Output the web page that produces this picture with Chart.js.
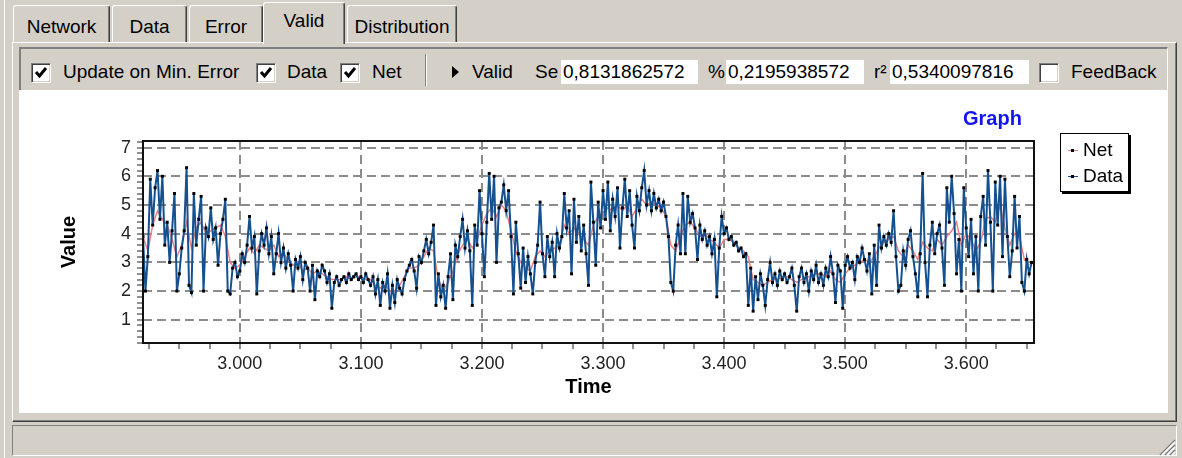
<!DOCTYPE html>
<html>
<head>
<meta charset="utf-8">
<script src="https://cdn.jsdelivr.net/npm/chart.js@4.4.1/dist/chart.umd.min.js"></script>
<style>
  html, body { margin: 0; padding: 0; }
  body {
    width: 1182px; height: 458px; position: relative; overflow: hidden;
    background: #d4d0c8; color: #000;
    font-family: "Liberation Sans", Arial, sans-serif; font-size: 19px;
  }
  .abs { position: absolute; }
  .tab {
    position: absolute; top: 5px; height: 37px; box-sizing: border-box;
    border-top: 1px solid #fff; border-left: 1px solid #fff; border-right: 1px solid #404040;
    box-shadow: inset -1px 0 0 #808080; border-radius: 3px 3px 0 0;
    text-align: center; padding-top: 4px; line-height: 34px; background: #d4d0c8;
  }
  .tab.sel { top: 2px; height: 42px; padding-top: 1px; z-index: 3; }
  .panel {
    position: absolute; left: 12px; top: 42px; width: 1165px; height: 380px; box-sizing: border-box;
    border-top: 1px solid #fff; border-left: 1px solid #fff;
    border-right: 1px solid #404040; border-bottom: 1px solid #404040;
    box-shadow: inset -1px -1px 0 #808080;
  }
  .toolbar {
    position: absolute; left: 19px; top: 47px; width: 1149px; height: 43px; box-sizing: border-box;
    border-top: 2px solid #808080; border-left: 2px solid #808080; border-right: 1px solid #fff;
  }
  .chk {
    position: absolute; top: 63px; width: 20px; height: 20px; box-sizing: border-box; background: #fff;
    border: 1px solid; border-color: #808080 #fff #fff #808080;
    box-shadow: inset 1px 1px 0 #404040, inset -1px -1px 0 #d4d0c8;
  }
  .lbl { position: absolute; top: 61px; line-height: 22px; white-space: nowrap; }
  .box { position: absolute; top: 60px; height: 24px; line-height: 24px; background: #fff; padding-left: 2px; box-sizing: border-box; }
  #plotArea { position: absolute; left: 19px; top: 90px; width: 1149px; height: 323px; background: #fff; }
  #legend {
    position: absolute; left: 1060px; top: 133px; width: 69px; height: 59px; box-sizing: border-box;
    background: #fff; border: 1px solid #000; box-shadow: 2px 2px 0 #000;
  }
  .lg { position: absolute; left: 22px; line-height: 22px; }
  .sw { position: absolute; left: 7px; width: 10px; height: 1px; }
  .dot { position: absolute; left: 10px; width: 3px; height: 3px; background: #000; }
</style>
</head>
<body>
<div class="abs" style="left:4px;top:0;width:1px;height:458px;background:#fff"></div>

<div class="panel"></div>
<div class="tab" style="left:13px;width:97px">Network</div>
<div class="tab" style="left:112px;width:75px">Data</div>
<div class="tab" style="left:189px;width:74px">Error</div>
<div class="tab sel" style="left:263px;width:82px">Valid</div>
<div class="tab" style="left:347px;width:110px">Distribution</div>

<div class="toolbar"></div>
<div class="chk" style="left:31px"><svg width="18" height="18"><polyline points="4,8 7.5,12 14,4" fill="none" stroke="#000" stroke-width="3"/></svg></div>
<div class="lbl" style="left:63px">Update on Min. Error</div>
<div class="chk" style="left:256px"><svg width="18" height="18"><polyline points="4,8 7.5,12 14,4" fill="none" stroke="#000" stroke-width="3"/></svg></div>
<div class="lbl" style="left:287px">Data</div>
<div class="chk" style="left:340px"><svg width="18" height="18"><polyline points="4,8 7.5,12 14,4" fill="none" stroke="#000" stroke-width="3"/></svg></div>
<div class="lbl" style="left:372px">Net</div>
<div class="abs" style="left:425px;top:54px;width:1px;height:32px;background:#808080;border-right:1px solid #fff"></div>
<div class="abs" style="left:452px;top:66px;width:0;height:0;border-left:7px solid #000;border-top:6px solid transparent;border-bottom:6px solid transparent"></div>
<div class="lbl" style="left:472px">Valid</div>
<div class="lbl" style="left:535px">Se</div>
<div class="box" style="left:561px;width:137px">0,8131862572</div>
<div class="lbl" style="left:708px">%</div>
<div class="box" style="left:726px;width:138px">0,2195938572</div>
<div class="lbl" style="left:874px">r²</div>
<div class="box" style="left:890px;width:139px">0,5340097816</div>
<div class="chk" style="left:1039px"></div>
<div class="lbl" style="left:1071px">FeedBack</div>

<div id="plotArea"><canvas id="graph" width="1149" height="323"></canvas></div>
<div class="abs" style="left:963px;top:106px;font-weight:bold;font-size:20px;color:#1414ee;line-height:24px">Graph</div>
<div id="legend">
  <div class="sw" style="top:16px;background:#ee8080"></div><div class="dot" style="top:15px"></div>
  <div class="lg" style="top:5px">Net</div>
  <div class="sw" style="top:42px;background:#15508f"></div><div class="dot" style="top:41px"></div>
  <div class="lg" style="top:31px">Data</div>
</div>

<div class="abs" style="left:12px;top:425px;width:1165px;height:31px;box-sizing:border-box;border-top:1px solid #808080;border-left:1px solid #808080;border-bottom:1px solid #fff;border-right:1px solid #fff"></div>
<svg class="abs" style="left:1158px;top:438px" width="18" height="18">
  <g stroke-width="1.5">
    <line x1="17" y1="2" x2="2" y2="17" stroke="#808080"/><line x1="17" y1="4" x2="4" y2="17" stroke="#fff"/>
    <line x1="17" y1="7" x2="7" y2="17" stroke="#808080"/><line x1="17" y1="9" x2="9" y2="17" stroke="#fff"/>
    <line x1="17" y1="12" x2="12" y2="17" stroke="#808080"/><line x1="17" y1="14" x2="14" y2="17" stroke="#fff"/>
  </g>
</svg>

<script>
// sample index of the first point and spacing of the two series
const timeStart = 2920;
const dataStep = 2;
const netStep = 4;

const timeTicks = [3000, 3100, 3200, 3300, 3400, 3500, 3600];
const valueTicks = [1, 2, 3, 4, 5, 6, 7];

// Data (blue), one value every 2 samples from 2920
const dataValues = [
  3.9, 2.0, 3.2, 5.9, 4.3, 5.6, 6.2, 4.5, 6.0, 3.6,
  4.4, 3.0, 4.1, 5.4, 2.0, 2.6, 3.5, 4.1, 6.3, 2.2,
  1.95, 5.4, 3.6, 4.5, 5.3, 2.0, 4.2, 3.9, 4.9, 3.8,
  4.2, 2.9, 4.0, 4.5, 5.2, 2.0, 1.9, 2.8, 3.0, 2.5,
  2.7, 3.3, 3.0, 3.6, 4.6, 3.5, 3.9, 1.9, 3.4, 4.0,
  3.6, 4.2, 3.3, 3.9, 2.6, 3.3, 4.0, 3.0, 3.5, 2.8,
  3.3, 2.9, 2.0, 3.1, 2.8, 3.2, 2.4, 3.0, 2.8, 2.0,
  2.9, 1.7, 2.7, 2.5, 2.9, 2.7, 2.3, 2.6, 1.4, 2.3,
  2.5, 2.2, 2.4, 2.5, 2.3, 2.6, 2.4, 2.5, 2.6, 2.4,
  2.5, 2.3, 2.6, 2.4, 2.2, 2.5, 1.9, 2.4, 1.5, 2.3,
  2.0, 2.6, 1.4, 2.2, 1.6, 2.4, 2.1, 1.9, 2.4, 2.7,
  2.9, 3.1, 2.7, 2.1, 3.2, 3.0, 3.4, 3.8, 3.3, 3.7,
  4.3, 1.5, 2.6, 1.8, 2.2, 1.4, 2.5, 3.3, 1.7, 3.6,
  3.2, 3.9, 4.5, 3.5, 4.1, 3.4, 1.5, 4.3, 3.6, 5.5,
  4.0, 2.5, 4.4, 6.1, 4.5, 6.0, 3.0, 4.9, 5.1, 5.7,
  4.8, 5.5, 3.9, 1.9, 4.4, 3.3, 2.1, 3.5, 2.3, 3.2,
  2.6, 1.9, 3.0, 3.6, 5.1, 3.3, 2.5, 3.9, 3.2, 3.7,
  2.5, 4.0, 3.5, 3.9, 5.4, 4.2, 4.8, 2.6, 5.2, 3.7,
  4.6, 3.4, 4.3, 3.3, 2.2, 5.8, 4.4, 2.9, 5.1, 4.2,
  5.5, 4.5, 5.8, 4.1, 5.2, 4.6, 5.6, 3.5, 4.9, 5.9,
  4.6, 5.5, 4.3, 3.5, 5.3, 4.8, 5.6, 6.2, 5.0, 5.5,
  4.8, 5.4, 4.9, 5.2, 4.8, 5.1, 4.6, 3.9, 2.3, 2.0,
  3.6, 4.3, 3.3, 5.4, 3.3, 5.3, 4.4, 4.7, 4.2, 3.1,
  4.3, 3.8, 4.1, 3.6, 3.9, 3.3, 3.8, 1.8, 3.5, 4.6,
  4.0, 4.2, 3.8, 3.9, 3.6, 3.7, 3.4, 3.5, 3.2, 3.3,
  1.5, 2.8, 1.3, 2.5, 1.7, 2.6, 2.2, 1.5, 2.4, 3.0,
  2.3, 2.6, 2.2, 2.7, 2.4, 2.6, 2.3, 2.5, 2.8, 2.2,
  1.3, 2.5, 2.8, 2.3, 2.6, 2.0, 2.7, 2.4, 2.9, 2.3,
  2.6, 2.2, 2.8, 2.5, 3.2, 2.6, 1.6, 2.9, 2.7, 1.4,
  2.9, 3.2, 2.8, 3.0, 2.4, 3.2, 3.0, 3.5, 3.1, 2.7,
  3.3, 1.9, 3.6, 2.2, 4.3, 3.5, 3.9, 3.6, 4.0, 3.7,
  4.8, 3.2, 2.0, 2.2, 3.4, 2.9, 3.8, 4.1, 3.2, 2.6,
  1.8, 3.3, 6.1, 3.0, 1.8, 3.6, 4.4, 3.3, 4.0, 4.3,
  3.5, 2.2, 5.6, 4.4, 6.0, 4.7, 2.6, 3.8, 2.0, 5.6,
  4.2, 3.2, 4.5, 2.6, 3.9, 2.0, 4.6, 5.3, 3.6, 6.2,
  4.4, 2.0, 5.8, 4.3, 6.0, 3.2, 5.9, 3.9, 2.5, 3.4,
  5.3, 3.5, 4.6, 2.3, 2.0, 3.1, 2.6, 3.0
];

// Net (pink), one value every 4 samples from 2920
const netValues = [
  3.9, 3.4, 4.3, 4.8, 4.5, 4.3, 3.8, 3.2, 3.6, 4.4,
  3.5, 4.2, 4.4, 4.0, 4.1, 4.2, 4.3, 3.9, 3.0, 2.8,
  2.9, 3.2, 3.5, 3.3, 3.6, 3.5, 3.4, 3.6, 3.2, 3.3,
  3.1, 2.9, 3.0, 2.7, 2.8, 2.6, 2.7, 2.6, 2.5, 2.4,
  2.4, 2.4, 2.5, 2.4, 2.5, 2.5, 2.4, 2.4, 2.2, 2.1,
  2.2, 2.0, 2.0, 2.2, 2.5, 2.8, 2.8, 2.9, 3.2, 3.5,
  3.4, 2.4, 2.0, 2.3, 2.7, 3.3, 3.6, 3.8, 3.5, 3.8,
  4.3, 4.7, 4.9, 4.6, 5.0, 4.8, 4.1, 3.4, 3.0, 2.8,
  2.7, 3.2, 3.4, 3.2, 3.4, 3.5, 3.6, 4.3, 4.0, 4.2,
  4.0, 3.8, 3.6, 4.3, 4.6, 4.7, 4.9, 4.8, 5.0, 4.8,
  5.0, 4.6, 4.9, 5.2, 5.0, 5.1, 5.0, 4.9, 4.6, 3.6,
  3.4, 3.9, 4.3, 4.4, 4.2, 3.9, 4.0, 3.8, 3.7, 3.5,
  3.8, 3.8, 3.7, 3.5, 3.4, 3.2, 2.4, 2.3, 2.2, 2.3,
  2.4, 2.4, 2.5, 2.5, 2.4, 2.3, 2.4, 2.5, 2.5, 2.6,
  2.6, 2.5, 2.7, 2.4, 2.3, 2.6, 2.8, 2.9, 3.0, 3.1,
  3.0, 3.2, 3.5, 3.7, 3.8, 3.9, 3.4, 3.2, 3.6, 3.4,
  3.1, 3.7, 3.5, 3.4, 3.8, 3.6, 3.9, 4.1, 4.4, 3.6,
  4.0, 3.8, 3.4, 3.7, 4.5, 4.6, 4.4, 5.0, 4.2, 3.6,
  4.0, 3.9, 3.1, 2.9
];

const dataPoints = dataValues.map((v, i) => ({ x: timeStart + i * dataStep, y: v }));
const netPoints = netValues.map((v, i) => ({ x: timeStart + i * netStep, y: v }));

Chart.defaults.font.family = '"Liberation Sans", Arial, sans-serif';

// black frame all round the plot, like the original control
const framePlugin = {
  id: 'frame',
  afterDatasetsDraw(chart) {
    const { ctx, chartArea: a } = chart;
    ctx.save();
    ctx.strokeStyle = '#111';
    ctx.lineWidth = 2;
    ctx.strokeRect(a.left, a.top, a.right - a.left, a.bottom - a.top);
    ctx.restore();
  }
};

new Chart(document.getElementById('graph').getContext('2d'), {
  type: 'line',
  data: {
    datasets: [
      {
        label: 'Data',
        data: dataPoints,
        borderColor: '#15508f',
        borderWidth: 2,
        pointStyle: 'rect',
        pointRadius: 2.1,
        pointBackgroundColor: '#000',
        pointBorderColor: '#000',
        pointBorderWidth: 0,
        tension: 0
      },
      {
        label: 'Net',
        data: netPoints,
        borderColor: '#ee8080',
        borderWidth: 1.5,
        pointRadius: 0,
        tension: 0
      }
    ]
  },
  options: {
    responsive: false,
    animation: false,
    devicePixelRatio: 1,
    layout: { padding: { left: 38, right: 134, top: 51, bottom: 14 } },
    plugins: {
      legend: { display: false },
      tooltip: { enabled: false }
    },
    scales: {
      x: {
        type: 'linear',
        min: 2920,
        max: 3656,
        afterBuildTicks: s => {
          s.ticks = [];
          for (let t = 2925; t <= 3650; t += 25) s.ticks.push({ value: t });
        },
        afterFit: s => { s.height = 56; },
        grid: {
          color: c => timeTicks.includes(c.tick && c.tick.value) ? '#8c8c8c' : 'rgba(0,0,0,0)',
          lineWidth: 2,
          tickColor: '#222',
          tickLength: 6,
          tickWidth: 1
        },
        border: { display: false, dash: [9, 5] },
        ticks: {
          autoSkip: false,
          maxRotation: 0,
          padding: 4,
          color: '#222',
          font: { size: 18 },
          callback: v => timeTicks.includes(v) ? (v / 1000).toFixed(3) : ''
        },
        title: { display: true, text: 'Time', color: '#000', font: { size: 20, weight: 'bold' }, padding: 0 }
      },
      y: {
        min: 0.19,
        max: 7.23,
        afterBuildTicks: s => {
          s.ticks = [];
          for (let k = 1; k <= 36; k++) s.ticks.push({ value: k / 5 });
        },
        afterFit: s => { s.width = 86; },
        grid: {
          color: c => valueTicks.includes(c.tick && c.tick.value) ? '#8c8c8c' : 'rgba(0,0,0,0)',
          lineWidth: 2,
          tickColor: '#222',
          tickLength: 6,
          tickWidth: 1
        },
        border: { display: false, dash: [9, 5] },
        ticks: {
          autoSkip: false,
          padding: 6,
          color: '#222',
          font: { size: 18 },
          callback: v => valueTicks.includes(v) ? String(v) : ''
        },
        title: { display: true, text: 'Value', color: '#000', font: { size: 20, weight: 'bold' }, padding: 0 }
      }
    }
  },
  plugins: [framePlugin]
});
</script>
</body>
</html>
